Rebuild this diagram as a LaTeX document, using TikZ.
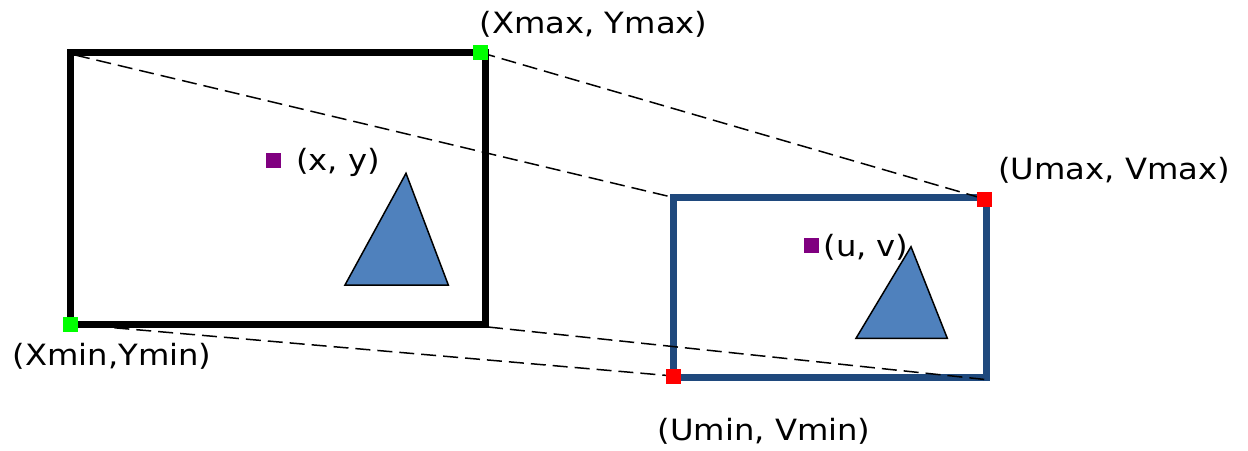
\documentclass[tikz,border=0pt]{standalone}
\usepackage{fontspec}
\setmainfont{DejaVu Sans}[FakeStretch=1.1]
\definecolor{frameblue}{HTML}{1F497D}
\definecolor{trifill}{HTML}{4F81BD}
\definecolor{ptpurple}{HTML}{800080}
\tikzset{
  lbl/.style={inner sep=0pt, font=\fontsize{29.3}{33}\selectfont},
  corner/.style={minimum size=15pt, inner sep=0pt, draw=none},
  gcorner/.style={corner, fill={rgb,255:red,0;green,255;blue,0}},
  rcorner/.style={corner, fill={rgb,255:red,255;green,0;blue,0}},
  pmark/.style={corner, fill=ptpurple},
  proj/.style={draw=black, line width=1.5pt, dash pattern=on 15pt off 7pt},
  tri/.style={fill=trifill, draw=black, line width=1.5pt, line join=miter},
}
\begin{document}
\begin{tikzpicture}[x=1pt, y=-1pt]
\useasboundingbox (0,0) rectangle (1248,450);
% corner coordinates
\coordinate (Ltl) at (70,52);
\coordinate (Lbr) at (485,324.5);
\coordinate (Btl) at (673.5,197.5);
\coordinate (Bbr) at (986.5,377);
\coordinate (Ls) at (75,55);
\coordinate (Lbrs) at (488,327);
\coordinate (Bbre) at (990,380);
% frames
\draw[line width=7pt, line join=miter] (Ltl) rectangle (Lbr);
\draw[frameblue, line width=7pt, line join=miter] (Btl) rectangle (Bbr);
% triangles
\draw[tri] (406,173.3) -- (448.3,285) -- (345,285) -- cycle;
\draw[tri] (911,246.7) -- (947.3,338.3) -- (856,338.3) -- cycle;
% corner markers
\node[gcorner] (gtr) at (480.5,52.5) {};
\node[gcorner] (gbl) at (70.5,324) {};
\node[rcorner] (rtr) at (984.7,199) {};
\node[rcorner] (rbl) at (673.5,376) {};
% dashed projection lines
\draw[proj] (Ls) -- (Btl);
\draw[proj] (gtr.center) -- (rtr.center);
\draw[proj] (gbl.center) -- (rbl.center);
\draw[proj] (Lbrs) -- (Bbre);
% redraw markers on top
\node[gcorner] at (gtr) {};
\node[gcorner] at (gbl) {};
\node[rcorner] at (rtr) {};
\node[rcorner] at (rbl) {};
\node[pmark] (p1) at (273,160) {};
\node[pmark] (p2) at (811,245) {};
% labels
\node[lbl] (tXmax) at (593.5,24.7) {(Xmax, Ymax)};
\node[lbl] (txy) at (338,162) {(x, y)};
\node[lbl] (tUmax) at (1114,170.5) {(Umax, Vmax)};
\node[lbl] (tuv) at (866,247) {(u, v)};
\node[lbl] (tXmin) at (112,356.7) {(Xmin,Ymin)};
\node[lbl] (tUmin) at (764,431) {(Umin, Vmin)};
\end{tikzpicture}
\end{document}
